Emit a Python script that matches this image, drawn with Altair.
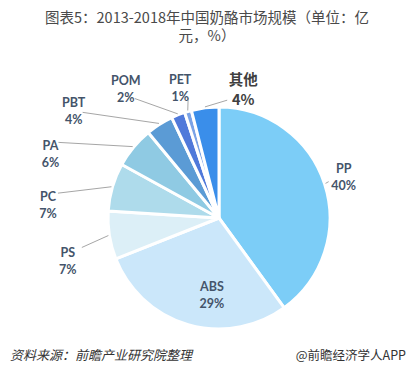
import math
import altair as alt
import numpy as np
import pandas as pd

# ---- data ----
categories = ["PP", "ABS", "PS", "PC", "PA", "PBT", "POM", "PET", "其他"]
shares = [40, 29, 7, 7, 6, 4, 2, 1, 4]
colors = ["#7CCDF7", "#CBE7FA", "#DCEFF7", "#AEDBEB", "#8FCAE3",
          "#5B9BD5", "#5079DA", "#7BA3E6", "#3A8EEA"]

title_text = "图表5：2013-2018年中国奶酪市场规模（单位：亿\n元，%）"
source_text = "资料来源：前瞻产业研究院整理"
brand_text = "@前瞻经济学人APP"

# ---- layout (not data) ----
W, H = 398, 362
CX, CY, R = 211, 210, 111
BASE_LABEL_R = 150
label_radius = {"ABS": 72}
label_nudge = {"PP": (-18, -3), "ABS": (13, 0), "PS": (-3, 12), "PC": (-27, 21),
               "PA": (-53, 24), "PBT": (-65, 12), "POM": (-38, 2), "PET": (3, 6),
               "其他": (43, 12)}
line_end = {"PP": (-15, 13), "PS": (14, -6), "PC": (10, -4), "PA": (8, -4),
            "PBT": (9, 9), "POM": (9, 18), "PET": (8, 18), "其他": (-16, 19)}

df = pd.DataFrame({"cat": categories, "share": shares, "idx": range(len(categories))})
df["label"] = [f"{c}\n{s}%" for c, s in zip(categories, shares)]
vals = np.array(shares, dtype=float)
cum = np.cumsum(vals)
mid = (cum - vals / 2) / vals.sum() * 2 * math.pi
lr = np.array([label_radius.get(c, BASE_LABEL_R) for c in categories], dtype=float)
df["lx"] = CX + lr * np.sin(mid) + [label_nudge[c][0] for c in categories]
df["ly"] = CY - lr * np.cos(mid) + [label_nudge[c][1] for c in categories]
df["ex"] = CX + (R + 1) * np.sin(mid)
df["ey"] = CY - (R + 1) * np.cos(mid)
df["tx"] = [df.lx[i] + line_end[c][0] if c in line_end else np.nan for i, c in enumerate(categories)]
df["ty"] = [df.ly[i] + line_end[c][1] if c in line_end else np.nan for i, c in enumerate(categories)]

xs = alt.Scale(domain=[0, W], range=[0, W])
ys = alt.Scale(domain=[0, H], range=[0, H])

base = alt.Chart(df)

pie = base.mark_arc(outerRadius=R, stroke="white", strokeWidth=3).encode(
    theta=alt.Theta("share:Q", stack=True),
    order=alt.Order("idx:Q"),
    color=alt.Color("cat:N", scale=alt.Scale(domain=categories, range=colors), legend=None),
    x=alt.value(CX),
    y=alt.value(CY),
)

lines = base.transform_filter("isValid(datum.tx)").mark_rule(color="#A6A6A6", strokeWidth=1).encode(
    x=alt.X("ex:Q", scale=xs, axis=None),
    y=alt.Y("ey:Q", scale=ys, axis=None),
    x2="tx:Q",
    y2="ty:Q",
)

labels = base.transform_filter("datum.cat != '其他'").mark_text(
    lineBreak="\n", font="Lato, Noto Sans CJK SC", fontWeight="bold", fontSize=12.5,
    color="#44546A", lineHeight=17, align="center", baseline="middle",
).encode(
    x=alt.X("lx:Q", scale=xs, axis=None),
    y=alt.Y("ly:Q", scale=ys, axis=None),
    text="label:N",
)

other_label = base.transform_filter("datum.cat == '其他'").mark_text(
    lineBreak="\n", font="Noto Sans CJK SC, Lato", fontWeight="bold", fontSize=14.5,
    color="#3F3F3F", lineHeight=20, align="center", baseline="middle",
).encode(
    x=alt.X("lx:Q", scale=xs, axis=None),
    y=alt.Y("ly:Q", scale=ys, axis=None),
    text="label:N",
)

tdf = pd.DataFrame({"t": [title_text]})
title = alt.Chart(tdf).mark_text(
    lineBreak="\n", font="Noto Sans CJK SC", fontSize=14.5, color="#4A4A4A",
    lineHeight=18, align="center", baseline="top",
).encode(x=alt.value(W / 2), y=alt.value(4), text="t:N")

sdf = pd.DataFrame({"s": [source_text], "b": [brand_text]})
source = alt.Chart(sdf).mark_text(
    font="Noto Sans CJK SC", fontSize=13, fontStyle="italic", color="#333333",
    align="left", baseline="middle",
).encode(x=alt.value(2), y=alt.value(348), text="s:N")
brand = alt.Chart(sdf).mark_text(
    font="Noto Sans CJK SC", fontSize=12.5, color="#333333",
    align="right", baseline="middle",
).encode(x=alt.value(W), y=alt.value(348), text="b:N")

chart = alt.layer(pie, lines, labels, other_label, title, source, brand).properties(
    width=W, height=H, autosize=alt.AutoSizeParams(type="none"), padding=0,
    background="white",
).configure_view(stroke=None)

chart.save("out.html", embed_options={"renderer": "svg", "actions": False})
